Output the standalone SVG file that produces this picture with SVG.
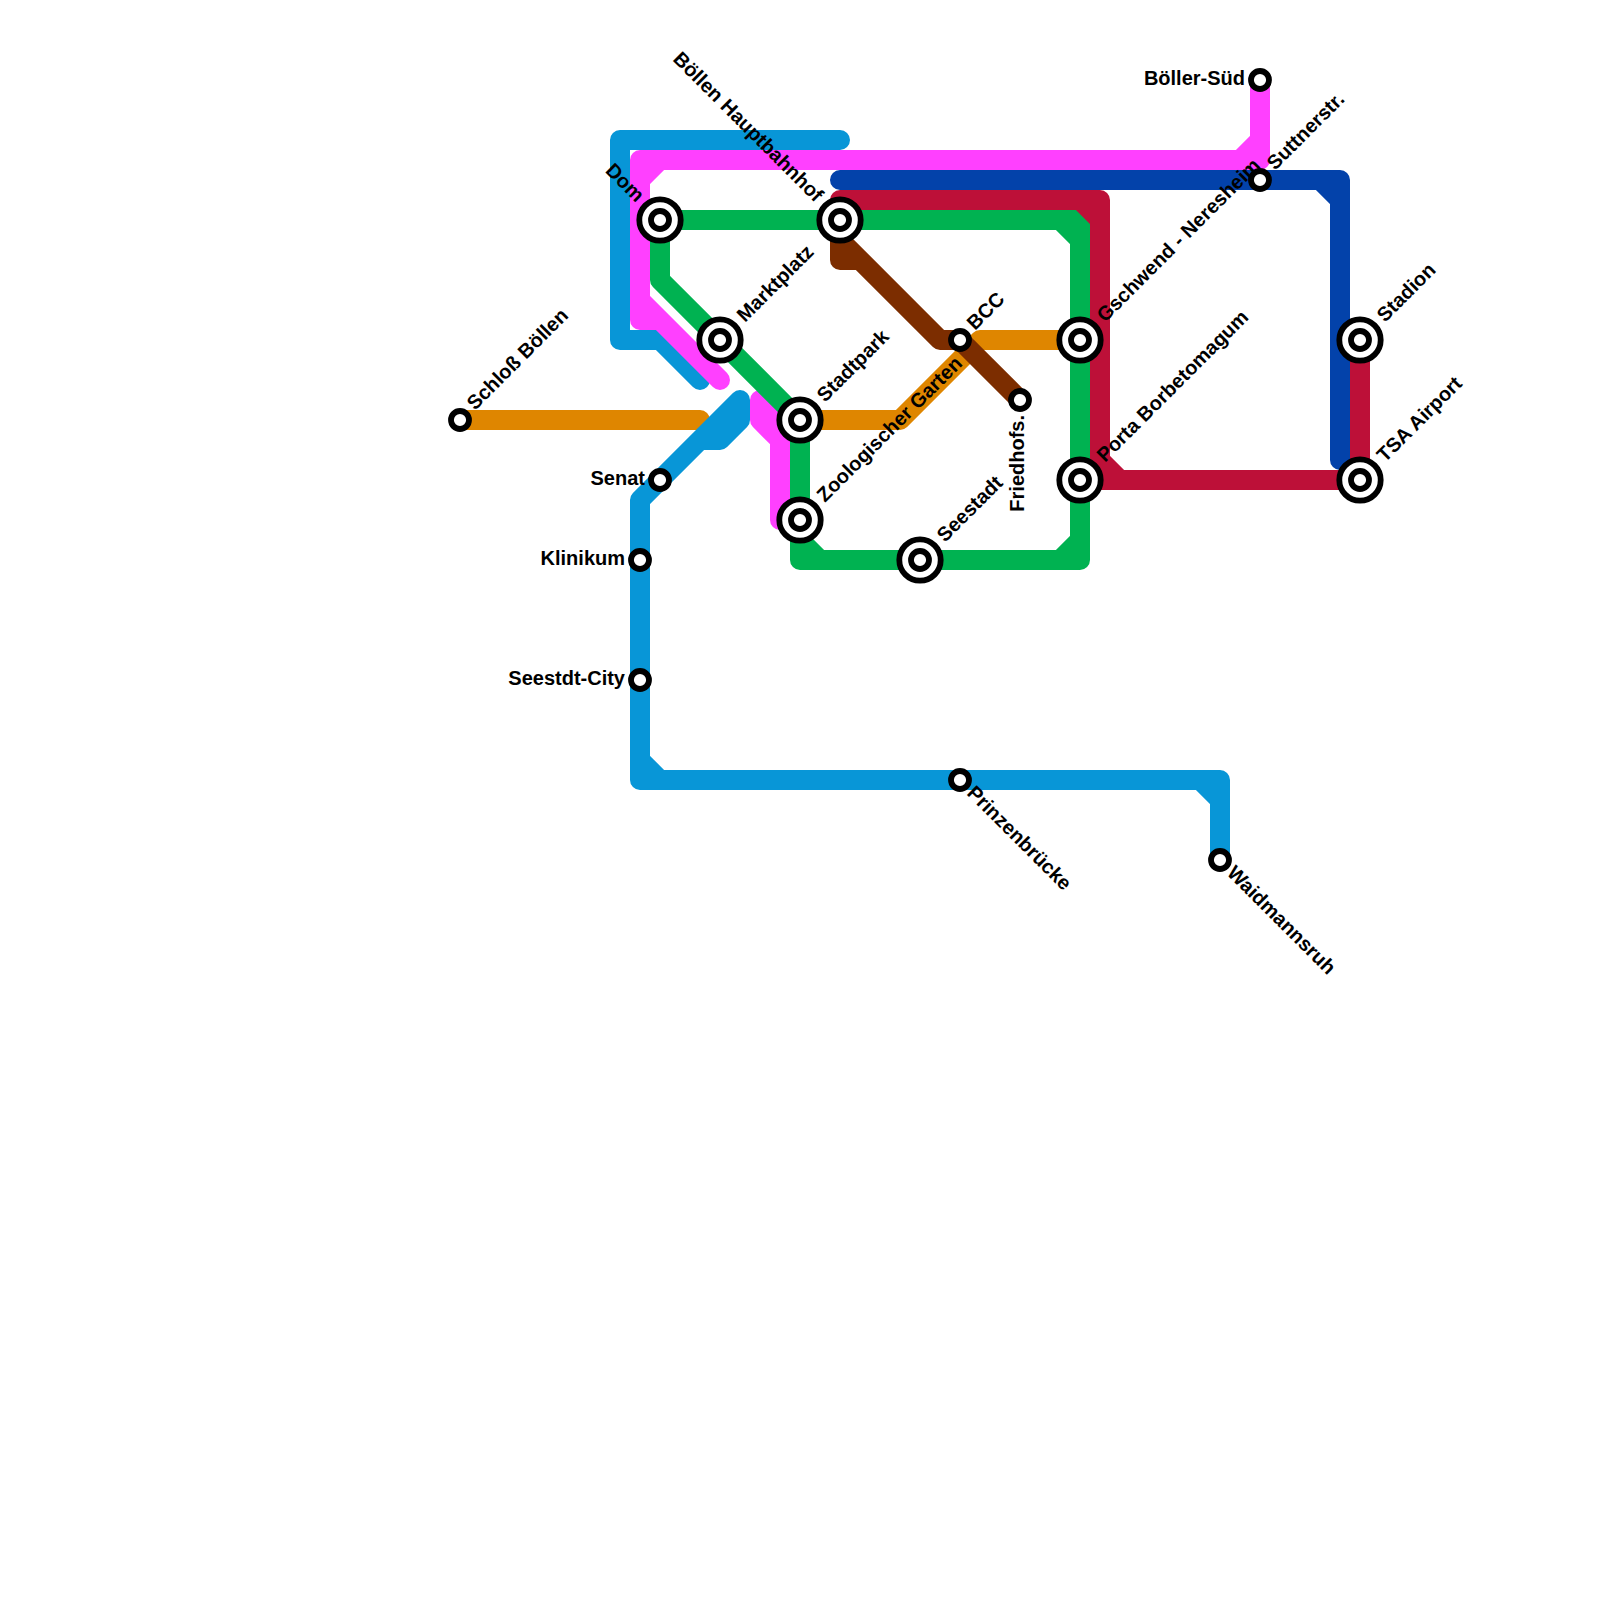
<svg xmlns="http://www.w3.org/2000/svg" width="1600" height="1600" viewBox="0 0 1600 1600">
<style>
.l{fill:none;stroke-width:20;stroke-linecap:round;stroke-linejoin:round}
.o{fill:none;stroke:#000;stroke-width:5.8}
.s{fill:#fff;stroke:#000;stroke-width:5.8}
text{font-family:"Liberation Sans",Arial,sans-serif;font-size:20px;font-weight:bold;fill:#000}
.e{text-anchor:end}
</style>
<rect width="1600" height="1600" fill="#fff"/>
<g id="connectors">
<path class="l" stroke="#df8600" d="M460,420H700M800,420H900L980,340H1080"/>
<path class="l" stroke="#7c2d00" d="M840,220V260H860M840,240L940,340H960L1020,400"/>
<path class="l" stroke="#0896d7" d="M840,140H620V340H660L700,380M1220,860V780H640V500L740,400V420L720,440H700M640,760L660,780M1200,780L1220,800"/>
<path class="l" stroke="#ff40ff" d="M1260,80V160H640V320H660L720,380M640,300L660,320M640,180L660,160M1240,160L1260,140M760,400L780,420V520H800M760,400V420L780,440"/>
<path class="l" stroke="#00b251" d="M660,220H1080V560H800V420L660,280V220M1060,220L1080,240M1080,540L1060,560M800,540L820,560"/>
<path class="l" stroke="#bd1038" d="M840,220V200H1100V480H1360V340M1080,200L1100,220M1100,460L1120,480M1080,480H1100"/>
<path class="l" stroke="#0342aa" d="M840,180H1340V460M1320,180L1340,200"/>
</g>
<g id="st-dom"><circle class="s" cx="660" cy="220" r="20.7"/><circle class="o" cx="660" cy="220" r="9"/><text class="e" transform="translate(636,203) rotate(45)">Dom</text></g>
<g id="st-hbf"><circle class="s" cx="840" cy="220" r="20.7"/><circle class="o" cx="840" cy="220" r="9"/><text class="e" transform="translate(815,203) rotate(45)">Böllen Hauptbahnhof</text></g>
<g id="st-marktplatz"><circle class="s" cx="720" cy="340" r="20.7"/><circle class="o" cx="720" cy="340" r="9"/><text transform="translate(745,323) rotate(-45)">Marktplatz</text></g>
<g id="st-stadtpark"><circle class="s" cx="800" cy="420" r="20.7"/><circle class="o" cx="800" cy="420" r="9"/><text transform="translate(825,403) rotate(-45)">Stadtpark</text></g>
<g id="st-zoo"><circle class="s" cx="800" cy="520" r="20.7"/><circle class="o" cx="800" cy="520" r="9"/><text transform="translate(825,503) rotate(-45)">Zoologischer Garten</text></g>
<g id="st-seestadt"><circle class="s" cx="920" cy="560" r="20.7"/><circle class="o" cx="920" cy="560" r="9"/><text transform="translate(945,543) rotate(-45)">Seestadt</text></g>
<g id="st-gschwend"><circle class="s" cx="1080" cy="340" r="20.7"/><circle class="o" cx="1080" cy="340" r="9"/><text transform="translate(1105,323) rotate(-45)">Gschwend - Neresheim</text></g>
<g id="st-porta"><circle class="s" cx="1080" cy="480" r="20.7"/><circle class="o" cx="1080" cy="480" r="9"/><text transform="translate(1105,463) rotate(-45)">Porta Borbetomagum</text></g>
<g id="st-stadion"><circle class="s" cx="1360" cy="340" r="20.7"/><circle class="o" cx="1360" cy="340" r="9"/><text transform="translate(1385,323) rotate(-45)">Stadion</text></g>
<g id="st-tsa"><circle class="s" cx="1360" cy="480" r="20.7"/><circle class="o" cx="1360" cy="480" r="9"/><text transform="translate(1385,463) rotate(-45)">TSA Airport</text></g>
<g id="st-schloss"><circle class="s" cx="460" cy="420" r="9"/><text transform="translate(475,411) rotate(-45)">Schloß Böllen</text></g>
<g id="st-senat"><circle class="s" cx="660" cy="480" r="9"/><text class="e" x="645" y="485">Senat</text></g>
<g id="st-klinikum"><circle class="s" cx="640" cy="560" r="9"/><text class="e" x="625" y="565">Klinikum</text></g>
<g id="st-seestdt"><circle class="s" cx="640" cy="680" r="9"/><text class="e" x="625" y="685">Seestdt-City</text></g>
<g id="st-prinzen"><circle class="s" cx="960" cy="780" r="9"/><text transform="translate(966,794) rotate(45)">Prinzenbrücke</text></g>
<g id="st-waid"><circle class="s" cx="1220" cy="860" r="9"/><text transform="translate(1226,874) rotate(45)">Waidmannsruh</text></g>
<g id="st-bcc"><circle class="s" cx="960" cy="340" r="9"/><text transform="translate(975,331) rotate(-45)">BCC</text></g>
<g id="st-fried"><circle class="s" cx="1020" cy="400" r="9"/><text class="e" transform="translate(1024,415) rotate(-90)">Friedhofs.</text></g>
<g id="st-boellersued"><circle class="s" cx="1260" cy="80" r="9"/><text class="e" x="1245" y="85">Böller-Süd</text></g>
<g id="st-suttner"><circle class="s" cx="1260" cy="180" r="9"/><text transform="translate(1275,171) rotate(-45)">Suttnerstr.</text></g>
</svg>
